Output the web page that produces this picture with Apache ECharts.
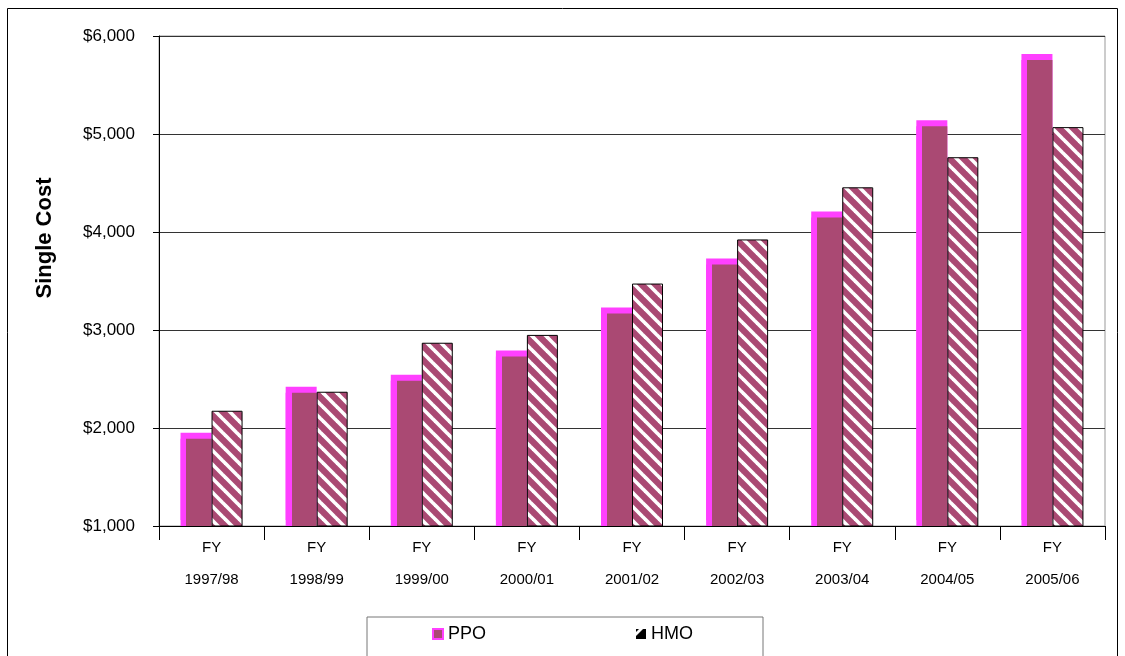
<!DOCTYPE html>
<html>
<head>
<meta charset="utf-8">
<script src="https://cdn.jsdelivr.net/npm/echarts@6/dist/echarts.min.js"></script>
<style>
  html, body { margin: 0; padding: 0; background: #fff; }
  #chart { width: 1125px; height: 656px; }
</style>
</head>
<body>
<div id="chart"></div>
<script>
const categories = ['FY\n1997/98', 'FY\n1998/99', 'FY\n1999/00', 'FY\n2000/01', 'FY\n2001/02', 'FY\n2002/03', 'FY\n2003/04', 'FY\n2004/05', 'FY\n2005/06'];
const ppoValues = [1890, 2360, 2483, 2730, 3168, 3669, 4149, 5080, 5755];
const hmoValues = [2176, 2370, 2870, 2950, 3474, 3924, 4456, 4763, 5070];
const yTicks = { min: 1000, max: 6000, interval: 1000 };

const DARK = '#AA4973';
const MAG = '#FF40FF';

// stripe pattern for HMO
const pat = document.createElement('canvas');
pat.width = 14; pat.height = 14;
(function () {
  const c = pat.getContext('2d');
  c.fillStyle = DARK; c.fillRect(0, 0, 14, 14);
  c.strokeStyle = '#ffffff'; c.lineWidth = 3.6;
  for (const k of [-14, 0, 14]) {
    c.beginPath(); c.moveTo(-2, -2 + k); c.lineTo(16, 16 + k); c.stroke();
  }
})();
// legend icon for HMO
const ic = document.createElement('canvas');
ic.width = 20; ic.height = 20;
(function () {
  const c = ic.getContext('2d');
  c.fillStyle = '#000'; c.fillRect(0, 0, 20, 20);
  c.fillStyle = '#fff';
  c.beginPath(); c.moveTo(0, 6); c.lineTo(6, 0); c.lineTo(14, 0); c.lineTo(0, 14); c.closePath(); c.fill();
})();

const chart = echarts.init(document.getElementById('chart'), null, { renderer: 'canvas' });
chart.setOption({
  animation: false,
  backgroundColor: '#fff',
  textStyle: { fontFamily: 'Liberation Sans, Arial, sans-serif' },
  grid: { left: 159, right: 20, top: 36, bottom: 130, show: true, borderColor: '#999', borderWidth: 1, backgroundColor: 'transparent' },
  legend: {
    left: 367, top: 617,
    padding: [8, 70, 30, 65],
    itemGap: 150,
    itemWidth: 10, itemHeight: 10,
    borderColor: '#777', borderWidth: 1,
    textStyle: { fontSize: 18, color: '#000', fontFamily: 'Liberation Sans, Arial, sans-serif' },
    data: [
      { name: 'PPO', icon: 'rect', itemStyle: { color: DARK, borderColor: MAG, borderWidth: 2, shadowColor: 'transparent', shadowOffsetY: 0 } },
      { name: 'HMO', icon: 'image://' + ic.toDataURL() }
    ]
  },
  xAxis: {
    type: 'category',
    data: categories,
    axisLine: { lineStyle: { color: '#000', width: 1 } },
    axisTick: { show: true, length: 14, lineStyle: { color: '#000' } },
    axisLabel: { fontSize: 15, color: '#000', lineHeight: 32, margin: 6 },
    splitLine: { show: false }
  },
  yAxis: {
    type: 'value',
    min: yTicks.min, max: yTicks.max, interval: yTicks.interval,
    axisLine: { show: true, lineStyle: { color: '#000', width: 1 } },
    axisTick: { show: true, length: 6, lineStyle: { color: '#000' } },
    axisLabel: { fontSize: 17, color: '#000', margin: 24, formatter: v => '$' + v.toLocaleString('en-US') },
    splitLine: { lineStyle: { color: '#333', width: 1 } }
  },
  graphic: [
    { type: 'rect', shape: { x: 7.5, y: 8.5, width: 1110, height: 700 }, style: { fill: 'none', stroke: '#000', lineWidth: 1 }, silent: true, z: 100 },
    { type: 'text', x: 45, y: 238, rotation: Math.PI / 2, style: { text: 'Single Cost', font: 'bold 22px "Liberation Sans", Arial, sans-serif', fill: '#000', textAlign: 'center', textVerticalAlign: 'middle' } }
  ],
  series: [
    {
      name: 'PPO', type: 'bar', data: ppoValues, barWidth: 31, barGap: '0%',
      itemStyle: {
        color: { type: 'linear', x: 0, y: 0, x2: 1, y2: 0, colorStops: [
          { offset: 0, color: MAG }, { offset: 0.19, color: MAG }, { offset: 0.19, color: DARK }, { offset: 1, color: DARK }
        ] },
        shadowColor: MAG, shadowOffsetY: -6, shadowOffsetX: 0, shadowBlur: 0
      },
      emphasis: { disabled: true }
    },
    {
      name: 'HMO', type: 'bar', data: hmoValues, barWidth: 31,
      itemStyle: { color: { image: pat, repeat: 'repeat' }, borderColor: '#000', borderWidth: 1 },
      emphasis: { disabled: true }
    }
  ]
});
</script>
</body>
</html>
